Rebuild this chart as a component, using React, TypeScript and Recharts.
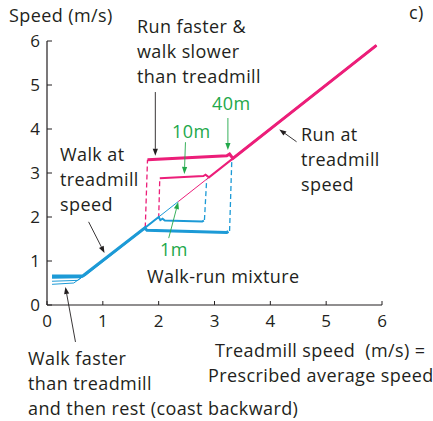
import { ComposedChart, Line, XAxis, YAxis, ReferenceLine } from "recharts";

const INK = "#231F20";
const PINK = "#EC1E79";
const BLUE = "#1C9AD6";
const GREEN = "#22A84A";
const FONT = "'Open Sans', sans-serif";

const TICKS = [0, 1, 2, 3, 4, 5, 6];

// walking (blue) — resting segments at low speed, then on the treadmill line
const walk40 = [
  { x: 0.09, y: 0.66 }, { x: 0.64, y: 0.66 }, { x: 1.75, y: 1.75 },
  { x: 1.79, y: 1.7 }, { x: 3.22, y: 1.65 }, { x: 3.25, y: 1.67 },
];
const walk10 = [
  { x: 0.09, y: 0.62 }, { x: 0.6, y: 0.63 }, { x: 0.68, y: 0.68 }, { x: 2.0, y: 2.0 },
  { x: 2.03, y: 1.93 }, { x: 2.07, y: 1.96 }, { x: 2.11, y: 1.92 }, { x: 2.78, y: 1.9 }, { x: 2.81, y: 1.92 },
];
const walk1b = [{ x: 0.09, y: 0.54 }, { x: 0.55, y: 0.56 }, { x: 0.7, y: 0.7 }];
const walk1 = [{ x: 0.09, y: 0.47 }, { x: 0.48, y: 0.5 }, { x: 0.72, y: 0.72 }, { x: 2.35, y: 2.35 }];

// running (pink)
const run1 = [{ x: 2.35, y: 2.35 }, { x: 5.9, y: 5.9 }];
const run10 = [
  { x: 2.02, y: 2.88 }, { x: 2.8, y: 2.93 }, { x: 2.84, y: 2.96 }, { x: 2.9, y: 2.9 }, { x: 5.9, y: 5.9 },
];
const run40 = [
  { x: 1.8, y: 3.3 }, { x: 3.22, y: 3.39 }, { x: 3.27, y: 3.43 }, { x: 3.33, y: 3.33 }, { x: 5.9, y: 5.9 },
];

// dashed switches between walk and run
const switchRun40 = [{ x: 1.76, y: 1.76 }, { x: 1.8, y: 3.3 }];
const switchWalk40 = [{ x: 3.27, y: 1.68 }, { x: 3.31, y: 3.3 }];
const switchRun10 = [{ x: 2.0, y: 1.97 }, { x: 2.02, y: 2.88 }];
const switchWalk10 = [{ x: 2.82, y: 1.93 }, { x: 2.86, y: 2.86 }];

// annotation arrows, in data units: tail -> tip
const arrows = [
  { from: [1.94, 4.84], to: [1.94, 3.39], color: INK },
  { from: [3.24, 4.25], to: [3.24, 3.52], color: GREEN },
  { from: [2.48, 3.7], to: [2.46, 2.98], color: GREEN },
  { from: [2.18, 1.52], to: [2.35, 2.34], color: GREEN },
  { from: [0.745, 1.89], to: [1.03, 1.18], color: INK },
  { from: [4.47, 3.71], to: [4.16, 3.99], color: INK },
  { from: [0.51, -0.84], to: [0.33, 0.41], color: INK },
];

function Arrow(p: any) {
  const { x1, y1, x2, y2, stroke } = p;
  const a = Math.atan2(y2 - y1, x2 - x1);
  const L = 7, W = 2.6;
  const bx = x2 - L * Math.cos(a), by = y2 - L * Math.sin(a);
  const px = -Math.sin(a) * W, py = Math.cos(a) * W;
  return (
    <g>
      <line x1={x1} y1={y1} x2={bx} y2={by} stroke={stroke} strokeWidth={0.9} />
      <polygon points={`${x2},${y2} ${bx + px},${by + py} ${bx - px},${by - py}`} fill={stroke} />
    </g>
  );
}

// multi-line labels use 25px lines; single-line labels a tighter box
const txt = (left: number, top: number, color = INK, lh = 25): React.CSSProperties => ({
  position: "absolute", left, top, color, fontFamily: FONT, fontSize: 18,
  letterSpacing: 0.4, lineHeight: `${lh}px`, whiteSpace: "pre",
});
const one = (left: number, baseline: number, color = INK) => txt(left, baseline - 18, color, 22);

function series(data: { x: number; y: number }[], color: string, width: number, dashed = false, key = "") {
  return (
    <Line
      key={key}
      data={data}
      dataKey="y"
      type="linear"
      stroke={color}
      strokeWidth={width}
      strokeDasharray={dashed ? "5 3" : undefined}
      dot={false}
      activeDot={false}
      isAnimationActive={false}
    />
  );
}

export default function App() {
  const tick = { fill: INK, fontSize: 17, fontFamily: FONT };
  return (
    <div style={{ position: "absolute", left: 0, top: 0, width: 433, height: 421, background: "#fff", overflow: "hidden" }}>
      <ComposedChart width={433} height={421} margin={{ top: 41, right: 51, bottom: 86, left: 0 }}>
        <XAxis
          type="number" dataKey="x" domain={[0, 6]} ticks={TICKS} allowDuplicatedCategory={false}
          height={30} tickSize={-4} tickMargin={14} tick={tick}
          axisLine={{ stroke: INK, strokeWidth: 1.2 }} tickLine={{ stroke: INK, strokeWidth: 1 }}
        />
        <YAxis
          type="number" domain={[0, 6]} ticks={TICKS} width={47} tickSize={-5} tickMargin={12} tick={tick}
          axisLine={{ stroke: INK, strokeWidth: 1.2 }} tickLine={{ stroke: INK, strokeWidth: 1 }}
        />
        {series(switchRun40, PINK, 1.3, true, "sr40")}
        {series(switchRun10, PINK, 1.3, true, "sr10")}
        {series(switchWalk40, BLUE, 1.3, true, "sw40")}
        {series(switchWalk10, BLUE, 1.3, true, "sw10")}
        {series(walk1, BLUE, 1, false, "w1")}
        {series(walk1b, BLUE, 1, false, "w1b")}
        {series(walk10, BLUE, 2, false, "w10")}
        {series(walk40, BLUE, 3, false, "w40")}
        {series(run1, PINK, 1, false, "r1")}
        {series(run10, PINK, 2, false, "r10")}
        {series(run40, PINK, 3, false, "r40")}
        {arrows.map((a, i) => (
          <ReferenceLine
            key={i}
            segment={[{ x: a.from[0], y: a.from[1] }, { x: a.to[0], y: a.to[1] }]}
            stroke={a.color}
            ifOverflow="visible"
            shape={Arrow}
          />
        ))}
      </ComposedChart>

      <div style={one(9, 22)}>Speed (m/s)</div>
      <div style={one(409, 19)}>c)</div>
      <div style={txt(137, 14)}>{"Run faster &\nwalk slower\nthan treadmill"}</div>
      <div style={one(212, 110, GREEN)}>40m</div>
      <div style={one(172, 138, GREEN)}>10m</div>
      <div style={txt(60, 142)}>{"Walk at\ntreadmill\nspeed"}</div>
      <div style={txt(301, 122)}>{"Run at\ntreadmill\nspeed"}</div>
      <div style={one(160, 256, GREEN)}>1m</div>
      <div style={one(147, 283)}>Walk-run mixture</div>
      <div style={one(215, 357)}>Treadmill speed  (m/s) =</div>
      <div style={one(208, 382)}>Prescribed average speed</div>
      <div style={one(28, 365)}>Walk faster</div>
      <div style={one(28, 390)}>than treadmill</div>
      <div style={one(28, 415)}>and then rest (coast backward)</div>
    </div>
  );
}
